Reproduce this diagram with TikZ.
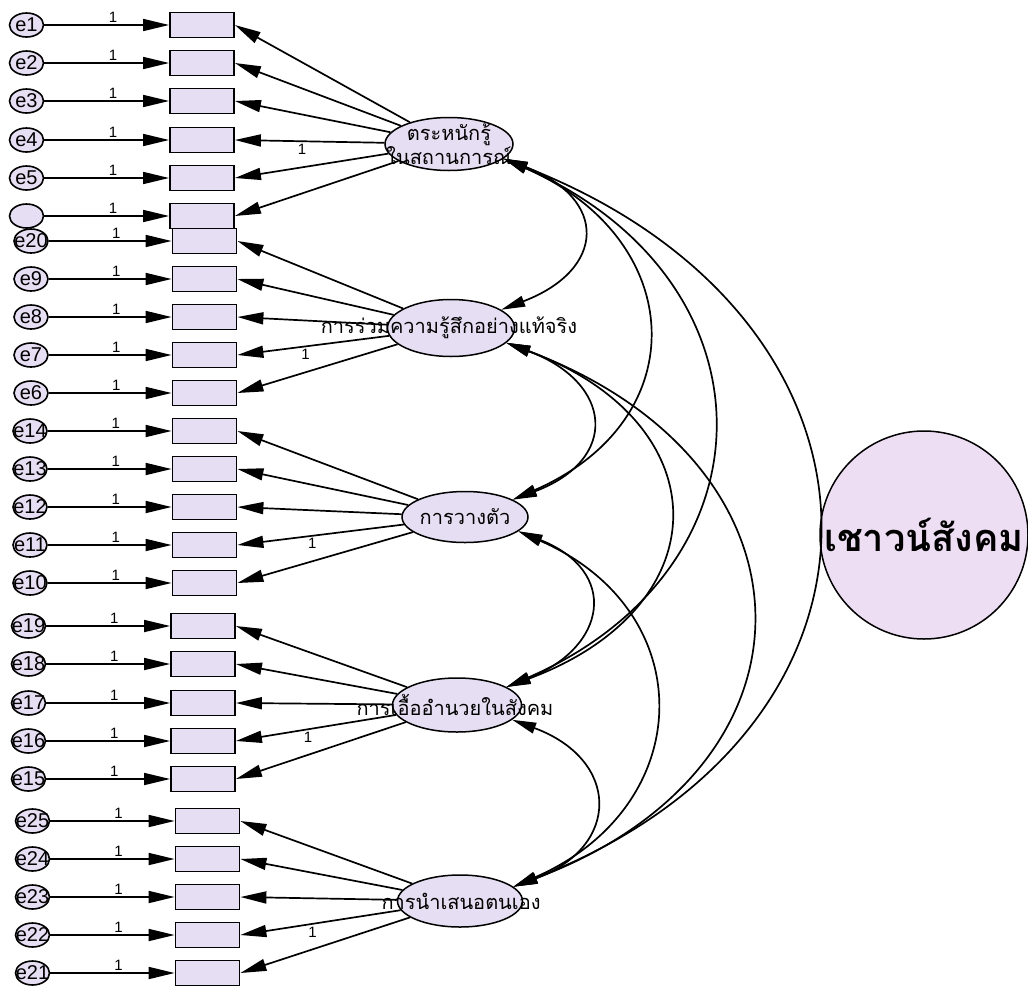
\documentclass[tikz,border=0pt]{standalone}
\usepackage{fontspec}
\setmainfont{Liberation Sans}
\newfontfamily\thaifont[Script=Thai]{Loma}
\usetikzlibrary{arrows.meta,shapes.geometric}
\definecolor{lav}{RGB}{230,222,242}
\definecolor{bigc}{RGB}{238,222,243}
\begin{document}
\begin{tikzpicture}[x=1pt,y=-1pt,
 err/.style={ellipse, draw, line width=1.6pt, fill=lav, minimum width=34pt, minimum height=24pt, inner sep=0pt},
 etxt/.style={inner sep=0pt, font=\fontsize{20}{20}\selectfont},
 obs/.style={rectangle, draw, line width=1.8pt, fill=lav, minimum width=64pt, minimum height=25pt, inner sep=0pt},
 lat/.style={ellipse, draw, line width=1.5pt, fill=lav, inner sep=0pt},
 lbl/.style={font=\thaifont\fontsize{20}{21}\selectfont, align=center, inner sep=0pt},
 arr/.style={line width=1.7pt, -{Triangle[length=26pt,width=12pt]}},
 cov/.style={line width=1.7pt, {Triangle[length=24pt,width=11pt]}-{Triangle[length=24pt,width=11pt]}},
 one/.style={font=\fontsize{15}{15}\selectfont, inner sep=2pt}]
\useasboundingbox (0,0) rectangle (1028,988);

% error terms and indicators
\foreach \i/\lab/\y/\ex/\rx in {
 1/e1/25/26.5/202, 2/e2/63/26.5/202, 3/e3/101/26.5/202, 4/e4/140/26.5/202, 5/e5/178/26.5/202, 6/{}/216/26.5/202,
 7/e20/241/31/204.5, 8/e9/279/31/204.5, 9/e8/317/31/204.5, 10/e7/355/31/204.5, 11/e6/393/31/204.5,
 12/e14/431/30/204.5, 13/e13/469/30/204.5, 14/e12/507/30/204.5, 15/e11/545/30/204.5, 16/e10/583/30/204.5,
 17/e19/626/28.5/203, 18/e18/664/28.5/203, 19/e17/703/28.5/203, 20/e16/741/28.5/203, 21/e15/779/28.5/203,
 22/e25/821/32.5/207.5, 23/e24/859/32.5/207.5, 24/e23/897/32.5/207.5, 25/e22/935/32.5/207.5, 26/e21/973/32.5/207.5}
{
 \node[err] (e\i) at (\ex,\y) {};
 \node[etxt] (t\i) at (e\i) {\lab};
 \node[obs] (o\i) at (\rx,\y) {};
 \draw[arr] (e\i) -- node[one, above, pos=0.55] (w\i) {1} (o\i.west);
}

% latent variables
\node[lat, minimum width=128pt, minimum height=53pt] (F1) at (449,144) {};
\node[lbl] (F1t) at (F1) {ตระหนักรู้\\ในสถานการณ์};
\node[lat, minimum width=127pt, minimum height=57pt] (F2) at (451,328) {};
\node[lbl] (F2t) at (449,328) {การร่วมความรู้สึกอย่างแท้จริง};
\node[lat, minimum width=126pt, minimum height=51pt] (F3) at (465,517) {};
\node[lbl] (F3t) at (F3) {การวางตัว};
\node[lat, minimum width=129pt, minimum height=54pt] (F4) at (457,705) {};
\node[lbl] (F4t) at (455,705) {การเอื้ออำนวยในสังคม};
\node[lat, minimum width=125pt, minimum height=52pt] (F5) at (460,901) {};
\node[lbl] (F5t) at (461,901) {การนำเสนอตนเอง};

\node[circle, draw, line width=1.5pt, fill=bigc, minimum size=208pt, inner sep=0pt] (SI) at (924,535) {};
\node[font=\thaifont\bfseries\fontsize{38}{38}\selectfont, inner sep=0pt] (SIt) at (924,535) {เชาวน์สังคม};

% loadings
\foreach \j in {1,2,3,5,6} \draw[arr] (F1) -- (o\j.east);
\draw[arr] (F1) -- node[one, below, pos=0.55] (L1) {1} (o4.east);
\foreach \j in {7,8,9,11} \draw[arr] (F2) -- (o\j.east);
\draw[arr] (F2) -- node[one, below, pos=0.55] (L2) {1} (o10.east);
\foreach \j in {12,13,14,16} \draw[arr] (F3) -- (o\j.east);
\draw[arr] (F3) -- node[one, below, pos=0.55] (L3) {1} (o15.east);
\foreach \j in {17,18,19,21} \draw[arr] (F4) -- (o\j.east);
\draw[arr] (F4) -- node[one, below, pos=0.55] (L4) {1} (o20.east);
\foreach \j in {22,23,24,26} \draw[arr] (F5) -- (o\j.east);
\draw[arr] (F5) -- node[one, below, pos=0.55] (L5) {1} (o25.east);

% covariances
\draw[cov] (F1.-15) .. controls +(105,40) and +(105,-40) .. (F2.20);
\draw[cov] (F2.-15) .. controls +(107,40) and +(107,-40) .. (F3.20);
\draw[cov] (F3.-15) .. controls +(101,40) and +(101,-40) .. (F4.20);
\draw[cov] (F4.-15) .. controls +(108,40) and +(108,-40) .. (F5.15);
\draw[cov] (F1.-15) .. controls +(184,80) and +(184,-80) .. (F3.20);
\draw[cov] (F2.-15) .. controls +(215,80) and +(215,-80) .. (F4.20);
\draw[cov] (F3.-15) .. controls +(184,80) and +(184,-80) .. (F5.15);
\draw[cov] (F1.-15) .. controls +(275,120) and +(275,-120) .. (F4.20);
\draw[cov] (F2.-15) .. controls +(320,120) and +(320,-120) .. (F5.15);
\draw[cov] (F1.-15) .. controls +(410,160) and +(410,-160) .. (F5.15);
\end{tikzpicture}
\end{document}
